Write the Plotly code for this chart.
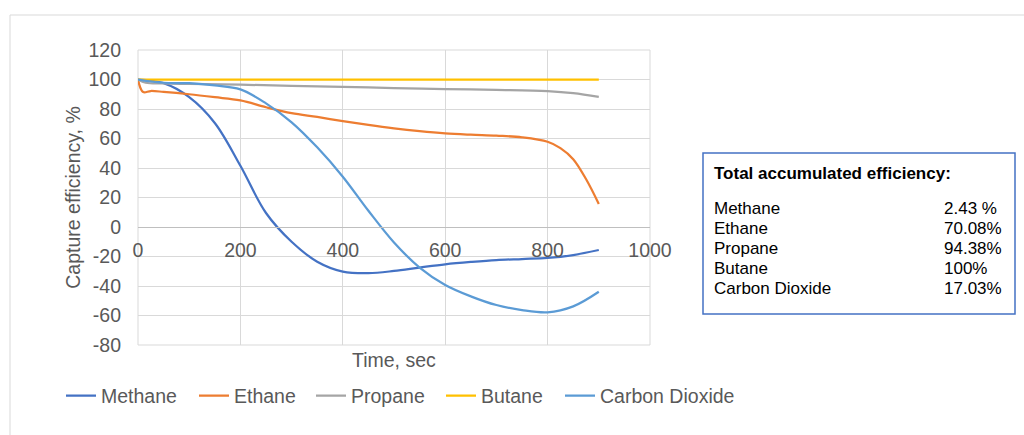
import plotly.graph_objects as go

# Capture efficiency over time for each gas
methane_t = [0, 50, 100, 150, 200, 250, 300, 350, 400, 450, 500, 550, 600, 650, 700, 750, 800, 850, 900]
methane_v = [100, 97.5, 88, 70.5, 41.5, 9.5, -10, -23.5, -30.2, -31.3, -29.8, -27.5, -25.3, -23.7, -22.4, -21.7, -21, -19, -15.6]

ethane_t = [0, 10, 25, 50, 100, 150, 200, 250, 300, 350, 400, 450, 500, 550, 600, 650, 700, 750, 800, 825, 850, 875, 900]
ethane_v = [100, 91.5, 92.2, 91.6, 90, 88, 85.8, 81.2, 77.2, 74.6, 71.8, 69.2, 66.9, 65, 63.5, 62.6, 61.9, 60.8, 57.8, 53.5, 46, 32.5, 15.6]

propane_t = [0, 15, 50, 100, 200, 300, 400, 500, 600, 700, 800, 850, 900]
propane_v = [100, 97.8, 97.3, 97, 96.5, 95.7, 95, 94.2, 93.5, 93, 92.2, 90.8, 88.2]

butane_t = [0, 900]
butane_v = [100, 100]

co2_t = [0, 50, 100, 150, 200, 250, 300, 350, 400, 450, 500, 550, 600, 650, 700, 750, 800, 850, 900]
co2_v = [100, 97.8, 97.5, 96, 93.3, 83.8, 71, 54, 34.1, 11, -10.5, -27.5, -39.3, -47, -52.9, -56.3, -57.8, -53.8, -43.9]

series_names = ["Methane", "Ethane", "Propane", "Butane", "Carbon Dioxide"]
series_colors = ["#4472C4", "#ED7D31", "#A5A5A5", "#FFC000", "#5B9BD5"]
series_t = [methane_t, ethane_t, propane_t, butane_t, co2_t]
series_v = [methane_v, ethane_v, propane_v, butane_v, co2_v]

# Summary box contents
box_title = "Total accumulated efficiency:"
box_names = ["Methane", "Ethane", "Propane", "Butane", "Carbon Dioxide"]
box_totals = ["2.43 %", "70.08%", "94.38%", "100%", "17.03%"]

x_ticks = [0, 200, 400, 600, 800, 1000]
y_ticks = [-80, -60, -40, -20, 0, 20, 40, 60, 80, 100, 120]
y_tick_text = ["-80", "-60", "-40", "-20", "0", "20", "40", "60", "80", "100", "120"]

W, H = 1024, 435
ML, MR, MT, MB = 138, 374, 50, 90
PW, PH = W - ML - MR, H - MT - MB

FONT = "Liberation Sans, Arial, sans-serif"
GREY_TXT = "#595959"
GRID = "#D9D9D9"

# left edge of each legend entry, in pixels
legend_left_px = [61, 194, 311, 441, 560]


def px_x(px):
    return (px - ML) / PW


def px_y(py):
    return (H - MB - py) / PH


fig = go.Figure()
legend_layout = {}
for i, (name, color, t, v) in enumerate(zip(series_names, series_colors, series_t, series_v)):
    lg = "legend" if i == 0 else f"legend{i + 1}"
    fig.add_trace(go.Scatter(
        x=t, y=v, name=name, mode="lines", legend=lg,
        line=dict(color=color, width=2.25, shape="spline", smoothing=1.0),
    ))
    legend_layout[lg] = dict(
        orientation="h", xref="container", yref="container",
        x=legend_left_px[i] / W, y=1 - 396 / H, xanchor="left", yanchor="middle",
        font=dict(size=19.5, color=GREY_TXT), bgcolor="rgba(0,0,0,0)",
        borderwidth=0,
    )

fig.update_layout(
    width=W, height=H,
    margin=dict(l=ML, r=MR, t=MT, b=MB, autoexpand=False),
    paper_bgcolor="white", plot_bgcolor="white",
    font=dict(family=FONT, size=19.5, color=GREY_TXT),
    showlegend=True,
    xaxis=dict(
        range=[0, 1000], tickvals=x_ticks, ticks="",
        showgrid=True, gridcolor=GRID, gridwidth=1,
        showline=True, linecolor="#BFBFBF", linewidth=1,
        zeroline=False, anchor="free", position=0.4,
        ticklabelstandoff=6, automargin=False,
        tickfont=dict(size=19.5, color=GREY_TXT),
    ),
    yaxis=dict(
        range=[-80, 120], tickvals=y_ticks, ticktext=y_tick_text, ticks="",
        showgrid=True, gridcolor=GRID, gridwidth=1,
        showline=False, zeroline=False,
        ticklabelstandoff=16, automargin=False,
        tickfont=dict(size=19.5, color=GREY_TXT),
        title=dict(text="Capture efficiency, %", standoff=2,
                   font=dict(size=19.5, color=GREY_TXT)),
    ),
    **legend_layout,
)

# Outer chart frame
fig.add_shape(type="rect", xref="paper", yref="paper",
              x0=px_x(10), x1=px_x(1040), y0=px_y(450), y1=px_y(15),
              line=dict(color=GRID, width=1), layer="below")

# Plot-area border (grid lines at the range ends)
fig.add_shape(type="rect", xref="paper", yref="paper",
              x0=0, x1=1, y0=0, y1=1,
              line=dict(color=GRID, width=1), layer="below")

# X axis title sits below the plot area
fig.add_annotation(text="Time, sec", xref="paper", yref="paper",
                   x=px_x(394), y=px_y(360), showarrow=False,
                   xanchor="center", yanchor="middle",
                   font=dict(size=19.5, color=GREY_TXT))

# Summary text box
fig.add_shape(type="rect", xref="paper", yref="paper",
              x0=px_x(703), x1=px_x(1015), y0=px_y(314), y1=px_y(153),
              line=dict(color="#4472C4", width=1.5), fillcolor="white")
fig.add_annotation(text="<b>" + box_title + "</b>", xref="paper", yref="paper",
                   x=px_x(712), y=px_y(173), showarrow=False,
                   xanchor="left", yanchor="middle",
                   font=dict(size=17, color="black"))
for i, (nm, tot) in enumerate(zip(box_names, box_totals)):
    yy = px_y(208.5 + 20 * i)
    fig.add_annotation(text=nm, xref="paper", yref="paper", x=px_x(712), y=yy,
                       showarrow=False, xanchor="left", yanchor="middle",
                       font=dict(size=17, color="black"))
    fig.add_annotation(text=tot, xref="paper", yref="paper", x=px_x(942), y=yy,
                       showarrow=False, xanchor="left", yanchor="middle",
                       font=dict(size=17, color="black"))

fig.write_html("out.html")
